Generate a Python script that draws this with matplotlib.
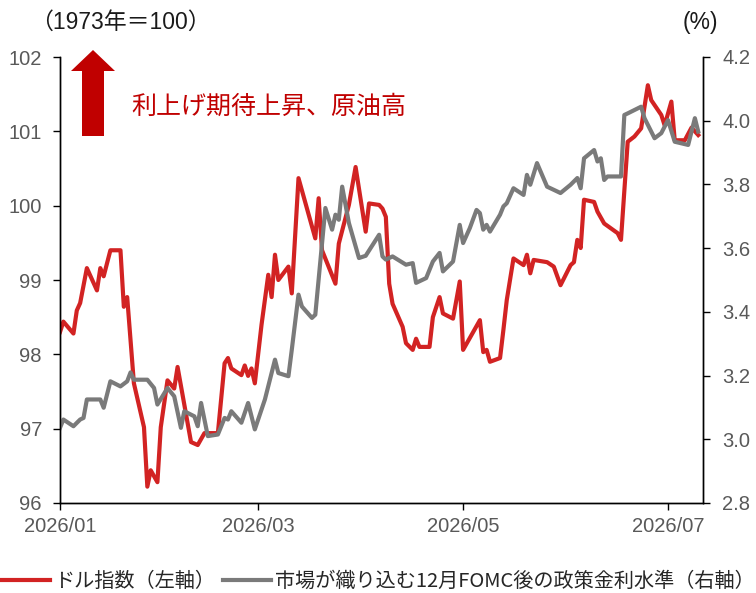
import matplotlib
matplotlib.use('Agg')
import matplotlib.pyplot as plt
import matplotlib.dates as mdates
from matplotlib.patches import FancyArrow
import pandas as pd

plt.rcParams['font.family'] = ['Liberation Sans', 'Noto Sans CJK JP']

# dollar index (left axis)
dxy_dates = ['2026-01-01', '2026-01-02', '2026-01-05', '2026-01-06', '2026-01-07', '2026-01-09',
             '2026-01-12', '2026-01-13', '2026-01-14', '2026-01-16', '2026-01-19', '2026-01-20',
             '2026-01-21', '2026-01-23', '2026-01-26', '2026-01-27', '2026-01-28', '2026-01-30',
             '2026-01-31', '2026-02-02', '2026-02-04', '2026-02-05', '2026-02-09', '2026-02-11',
             '2026-02-13', '2026-02-17', '2026-02-19', '2026-02-20', '2026-02-21', '2026-02-24',
             '2026-02-25', '2026-02-26', '2026-02-27', '2026-02-28', '2026-03-02', '2026-03-04',
             '2026-03-05', '2026-03-06', '2026-03-07', '2026-03-10', '2026-03-11', '2026-03-13',
             '2026-03-18', '2026-03-19', '2026-03-20', '2026-03-24', '2026-03-25', '2026-03-28',
             '2026-03-30', '2026-04-02', '2026-04-03', '2026-04-06', '2026-04-07', '2026-04-08',
             '2026-04-09', '2026-04-10', '2026-04-13', '2026-04-14', '2026-04-16', '2026-04-17',
             '2026-04-18', '2026-04-21', '2026-04-22', '2026-04-24', '2026-04-25', '2026-04-28',
             '2026-04-30', '2026-05-01', '2026-05-06', '2026-05-07', '2026-05-08', '2026-05-09',
             '2026-05-12', '2026-05-13', '2026-05-14', '2026-05-16', '2026-05-19', '2026-05-20',
             '2026-05-21', '2026-05-22', '2026-05-26', '2026-05-28', '2026-05-30', '2026-06-02',
             '2026-06-03', '2026-06-04', '2026-06-05', '2026-06-06', '2026-06-09', '2026-06-10',
             '2026-06-12', '2026-06-16', '2026-06-17', '2026-06-19', '2026-06-21', '2026-06-23',
             '2026-06-25', '2026-06-26', '2026-06-29', '2026-06-30', '2026-07-02', '2026-07-03',
             '2026-07-06', '2026-07-08', '2026-07-10']
dxy_vals = [98.30, 98.44, 98.28, 98.59, 98.69, 99.16,
            98.86, 99.16, 99.05, 99.40, 99.40, 98.64,
            98.77, 97.61, 97.02, 96.22, 96.44, 96.28,
            97.02, 97.65, 97.54, 97.83, 96.82, 96.78,
            96.94, 96.94, 97.88, 97.95, 97.81, 97.72,
            97.85, 97.71, 97.81, 97.61, 98.40, 99.07,
            98.77, 99.34, 99.00, 99.18, 98.82, 100.37,
            99.56, 100.10, 99.40, 98.95, 99.49, 100.01,
            100.52, 99.65, 100.03, 100.01, 99.96, 99.85,
            98.95, 98.68, 98.37, 98.15, 98.06, 98.21,
            98.10, 98.10, 98.50, 98.77, 98.55, 98.48,
            98.98, 98.06, 98.46, 98.03, 98.06, 97.90,
            97.95, 98.33, 98.73, 99.29, 99.20, 99.34,
            99.09, 99.27, 99.24, 99.18, 98.93, 99.20,
            99.24, 99.54, 99.43, 100.08, 100.05, 99.92,
            99.76, 99.63, 99.54, 100.86, 100.93, 101.04,
            101.62, 101.42, 101.22, 101.08, 101.40, 100.88,
            100.88, 101.05, 100.95]

# policy rate after December FOMC priced in by the market (right axis, %)
rate_dates = ['2026-01-01', '2026-01-02', '2026-01-05', '2026-01-07', '2026-01-08', '2026-01-09',
              '2026-01-13', '2026-01-14', '2026-01-16', '2026-01-19', '2026-01-21', '2026-01-22',
              '2026-01-23', '2026-01-27', '2026-01-29', '2026-01-30', '2026-02-02', '2026-02-04',
              '2026-02-06', '2026-02-07', '2026-02-10', '2026-02-11', '2026-02-12', '2026-02-13',
              '2026-02-14', '2026-02-17', '2026-02-19', '2026-02-20', '2026-02-21', '2026-02-24',
              '2026-02-26', '2026-02-28', '2026-03-03', '2026-03-06', '2026-03-07', '2026-03-10',
              '2026-03-11', '2026-03-13', '2026-03-14', '2026-03-17', '2026-03-18', '2026-03-21',
              '2026-03-23', '2026-03-24', '2026-03-25', '2026-03-26', '2026-03-28', '2026-03-31',
              '2026-04-02', '2026-04-06', '2026-04-07', '2026-04-08', '2026-04-10', '2026-04-14',
              '2026-04-16', '2026-04-17', '2026-04-20', '2026-04-22', '2026-04-24', '2026-04-25',
              '2026-04-28', '2026-04-30', '2026-05-01', '2026-05-03', '2026-05-05', '2026-05-06',
              '2026-05-07', '2026-05-08', '2026-05-09', '2026-05-12', '2026-05-13', '2026-05-14',
              '2026-05-16', '2026-05-19', '2026-05-20', '2026-05-21', '2026-05-23', '2026-05-26',
              '2026-05-30', '2026-06-02', '2026-06-04', '2026-06-05', '2026-06-06', '2026-06-09',
              '2026-06-10', '2026-06-11', '2026-06-12', '2026-06-13', '2026-06-17', '2026-06-18',
              '2026-06-19', '2026-06-23', '2026-06-24', '2026-06-27', '2026-06-29', '2026-07-01',
              '2026-07-03', '2026-07-07', '2026-07-09', '2026-07-10']
rate_vals = [3.036, 3.062, 3.041, 3.062, 3.067, 3.125,
             3.125, 3.099, 3.182, 3.166, 3.182, 3.210,
             3.187, 3.187, 3.161, 3.109, 3.161, 3.135,
             3.036, 3.088, 3.072, 3.041, 3.114, 3.062,
             3.010, 3.015, 3.067, 3.062, 3.088, 3.052,
             3.114, 3.031, 3.125, 3.250, 3.208, 3.198,
             3.281, 3.454, 3.417, 3.381, 3.391, 3.726,
             3.658, 3.705, 3.689, 3.793, 3.679, 3.569,
             3.576, 3.642, 3.574, 3.564, 3.574, 3.548,
             3.553, 3.491, 3.506, 3.558, 3.585, 3.527,
             3.558, 3.673, 3.616, 3.663, 3.720, 3.710,
             3.658, 3.673, 3.652, 3.705, 3.731, 3.741,
             3.788, 3.767, 3.830, 3.799, 3.867, 3.793,
             3.773, 3.799, 3.820, 3.788, 3.882, 3.908,
             3.872, 3.882, 3.814, 3.825, 3.825, 4.018,
             4.023, 4.044, 4.008, 3.945, 3.961, 4.002,
             3.934, 3.924, 4.008, 3.966]

left_ticks = [96, 97, 98, 99, 100, 101, 102]
right_ticks = [2.8, 3.0, 3.2, 3.4, 3.6, 3.8, 4.0, 4.2]
month_ticks = ['2026-01-01', '2026-03-01', '2026-05-01', '2026-07-01']

RED = '#D22323'
GRAY = '#7A7A7A'
DARKRED = '#C00000'
TICKC = '#595959'

fig = plt.figure(figsize=(7.56, 5.93), dpi=100)
W, H = 756, 593
ax = fig.add_axes([60 / W, 1 - 503 / H, 643 / W, 446 / H])
ax2 = ax.twinx()

l1, = ax.plot(pd.to_datetime(dxy_dates), dxy_vals, color=RED, lw=3.0,
              solid_joinstyle='round', label='ドル指数（左軸）')
l2, = ax2.plot(pd.to_datetime(rate_dates), rate_vals, color=GRAY, lw=3.0,
               solid_joinstyle='round', label='市場が織り込む12月FOMC後の政策金利水準（右軸）')

ax.set_xlim(pd.Timestamp('2026-01-01'), pd.Timestamp('2026-07-11 10:00'))
ax.set_ylim(96, 102)
ax2.set_ylim(2.8, 4.2)
ax.set_yticks(left_ticks)
ax2.set_yticks(right_ticks)
ax2.set_yticklabels(['%.1f' % v for v in right_ticks])
ax.set_xticks(pd.to_datetime(month_ticks))
ax.xaxis.set_major_formatter(mdates.DateFormatter('%Y/%m'))

for a in (ax, ax2):
    a.spines['top'].set_visible(False)
    for s in ('left', 'right', 'bottom'):
        a.spines[s].set_color('black')
        a.spines[s].set_linewidth(1.0)
    a.tick_params(axis='both', direction='out', length=5, width=1.0,
                  labelsize=14.5, labelcolor=TICKC, color='black')
ax.tick_params(axis='x', pad=5)
ax.tick_params(axis='y', pad=8)
ax2.tick_params(axis='y', pad=9)

fig.text(30 / W, 1 - 22 / H, '（1973年＝100）', fontsize=16.5, va='center', color='#1a1a1a')
fig.text(683 / W, 1 - 23 / H, '(%)', fontsize=16.5, va='center', color='#1a1a1a')

arrow = FancyArrow(93 / W, 1 - 136 / H, 0, 86 / H, width=22 / W, head_width=44 / W,
                   head_length=21 / H, length_includes_head=True,
                   color=DARKRED, lw=0, transform=fig.transFigure)
fig.add_artist(arrow)
fig.text(131 / W, 1 - 107 / H, '利上げ期待上昇、原油高', fontsize=18, va='center',
         color=DARKRED, family='Noto Sans CJK JP')

leg = fig.legend(handles=[l1, l2], loc='lower center', bbox_to_anchor=(0.5, -0.022),
                 ncol=2, frameon=False, fontsize=14.5, handlelength=2.4,
                 handletextpad=0.2, columnspacing=0.4, borderaxespad=0.3)
for t in leg.get_texts():
    t.set_color('#262626')
    t.set_family('Noto Sans CJK JP')

fig.savefig('out.png', dpi=100)
